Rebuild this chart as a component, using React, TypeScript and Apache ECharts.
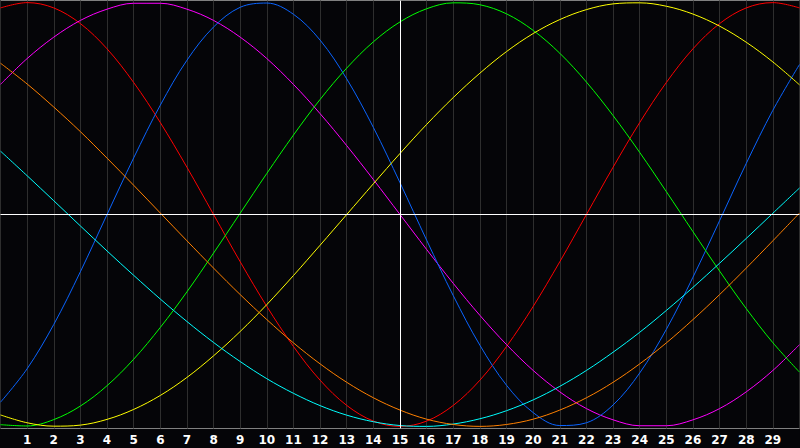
import React, { useEffect, useRef } from "react";
import * as echarts from "echarts";

const xValues = [0,1,2,3,4,5,6,7,8,9,10,11,12,13,14,15,16,17,18,19,20,21,22,23,24,25,26,27,28,29,30];

const redValues = [0.975,1.0,0.975,0.901,0.782,0.623,0.434,0.223,0.0,-0.223,-0.434,-0.623,-0.782,-0.901,-0.975,-1.0,-0.975,-0.901,-0.782,-0.623,-0.434,-0.223,0.0,0.223,0.434,0.623,0.782,0.901,0.975,1.0,0.975];
const magentaValues = [0.614,0.736,0.837,0.916,0.969,0.997,0.997,0.969,0.916,0.837,0.736,0.614,0.476,0.325,0.165,0.0,-0.165,-0.325,-0.476,-0.614,-0.736,-0.837,-0.916,-0.969,-0.997,-0.997,-0.969,-0.916,-0.837,-0.736,-0.614];
const blueValues = [-0.886,-0.728,-0.519,-0.27,0.0,0.267,0.516,0.728,0.885,0.978,0.998,0.945,0.823,0.64,0.411,0.15,-0.121,-0.383,-0.617,-0.806,-0.935,-0.996,-0.983,-0.899,-0.748,-0.542,-0.296,-0.029,0.241,0.492,0.708];
const greenValues = [-0.992,-0.998,-0.968,-0.904,-0.808,-0.683,-0.533,-0.365,-0.182,0.006,0.194,0.375,0.543,0.691,0.815,0.909,0.971,0.999,0.99,0.947,0.869,0.761,0.625,0.467,0.293,0.108,-0.081,-0.267,-0.444,-0.605,-0.744];
const yellowValues = [-0.946,-0.983,-0.999,-0.994,-0.967,-0.92,-0.854,-0.769,-0.667,-0.552,-0.425,-0.288,-0.145,0.0,0.145,0.288,0.425,0.552,0.667,0.769,0.854,0.92,0.967,0.994,0.999,0.983,0.946,0.889,0.813,0.72,0.612];
const cyanValues = [0.299,0.183,0.065,-0.054,-0.172,-0.287,-0.399,-0.505,-0.604,-0.694,-0.775,-0.844,-0.902,-0.947,-0.978,-0.996,-1.0,-0.989,-0.964,-0.926,-0.875,-0.811,-0.736,-0.65,-0.556,-0.453,-0.344,-0.23,-0.113,0.006,0.125];
const orangeValues = [0.714,0.616,0.507,0.391,0.266,0.138,0.007,-0.124,-0.253,-0.378,-0.496,-0.606,-0.705,-0.792,-0.865,-0.923,-0.966,-0.991,-1.0,-0.991,-0.966,-0.923,-0.865,-0.792,-0.705,-0.606,-0.496,-0.378,-0.253,-0.124,0.007];

const seriesDefs = [
  { name: "red", color: "#ff0000", values: redValues },
  { name: "magenta", color: "#ff00ff", values: magentaValues },
  { name: "blue", color: "#0a64ff", values: blueValues },
  { name: "green", color: "#00ff00", values: greenValues },
  { name: "yellow", color: "#ffff00", values: yellowValues },
  { name: "cyan", color: "#00ffff", values: cyanValues },
  { name: "orange", color: "#ff8000", values: orangeValues },
];

const centerX = 15;
const centerY = 0;

export default function App() {
  const ref = useRef<HTMLDivElement>(null);
  useEffect(() => {
    if (!ref.current) return;
    const chart = echarts.init(ref.current, undefined, { renderer: "svg" });
    const series: any[] = seriesDefs.map((s) => ({
      name: s.name,
      type: "line",
      data: xValues.map((x, i) => [x, s.values[i]]),
      smooth: 0.35,
      showSymbol: false,
      symbol: "none",
      lineStyle: { color: s.color, width: 1 },
      itemStyle: { color: s.color },
      z: 3,
    }));
    series.unshift({
      name: "axes",
      type: "line",
      data: [],
      z: 2,
      markLine: {
        silent: true,
        symbol: ["none", "none"],
        label: { show: false },
        lineStyle: { color: "#ffffff", width: 1, type: "solid" },
        data: [{ xAxis: centerX }, { yAxis: centerY }],
      },
    });
    chart.setOption({
      animation: false,
      backgroundColor: "#050508",
      grid: {
        left: 0.5,
        right: 0.5,
        top: 0.5,
        bottom: 19.5,
        show: true,
        borderColor: "#808080",
        borderWidth: 1,
        backgroundColor: "#050508",
      },
      xAxis: {
        type: "value",
        min: 0,
        max: 30,
        interval: 1,
        axisLine: { show: false },
        axisTick: { show: false },
        splitLine: { show: true, lineStyle: { color: "#2e2e2e", width: 1 } },
        axisLabel: {
          show: true,
          showMinLabel: false,
          showMaxLabel: false,
          color: "#ffffff",
          fontFamily: "DejaVu Sans",
          fontWeight: "bold",
          fontSize: 12,
          margin: 5,
        },
      },
      yAxis: {
        type: "value",
        min: -1.01,
        max: 1.01,
        show: false,
        splitLine: { show: false },
      },
      series,
    });
    return () => chart.dispose();
  }, []);
  return (
    <div
      ref={ref}
      style={{ position: "fixed", left: 0, top: 0, width: 800, height: 448 }}
    />
  );
}
